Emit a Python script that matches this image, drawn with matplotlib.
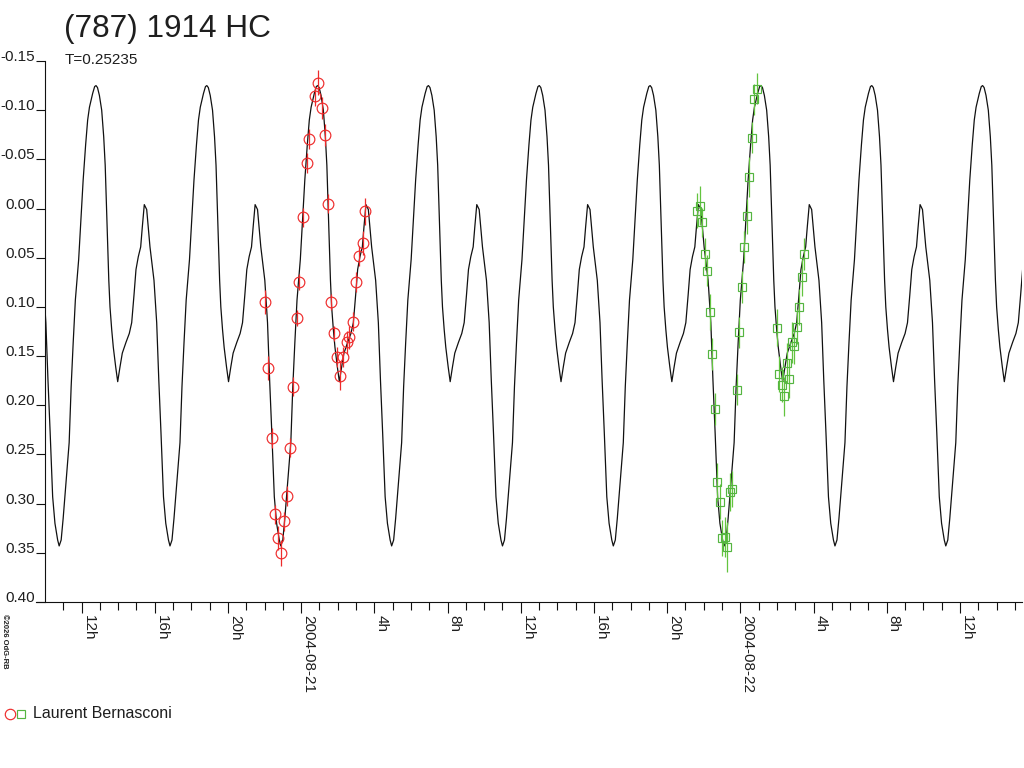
import numpy as np
import matplotlib
matplotlib.use("Agg")
import matplotlib.pyplot as plt
from matplotlib.lines import Line2D

plt.rcParams['font.family'] = ['Liberation Sans', 'DejaVu Sans']

title = "(787) 1914 HC"
subtitle = "T=0.25235"
observer = "Laurent Bernasconi"
credit = "©2026 OdG-RB"

period_days = 0.25235
epoch_hour = 12.787          # a light-curve maximum, hours since 2004-08-20 00:00
x_start, x_end = 10.0, 63.39  # hours since 2004-08-20 00:00

# one period of the fitted light curve
fit_phase = [0.0, 0.0135, 0.0307, 0.0514, 0.0695, 0.0830, 0.0929, 0.1037, 0.1155, 0.1263,
             0.1416, 0.1561, 0.1777, 0.1958, 0.2165, 0.2373, 0.2706, 0.3004, 0.3221, 0.3428,
             0.3608, 0.3816, 0.4032, 0.4177, 0.4357, 0.4574, 0.4871, 0.5232, 0.5476, 0.5665,
             0.5864, 0.6089, 0.6296, 0.6540, 0.6676, 0.6856, 0.7037, 0.7307, 0.7578, 0.7758,
             0.7939, 0.8137, 0.8435, 0.8660, 0.8841, 0.9066, 0.9247, 0.9409, 0.9698, 0.9878]
fit_mag = [-0.125, -0.123, -0.115, -0.100, -0.073, -0.044, -0.009, 0.032, 0.073, 0.100,
           0.123, 0.141, 0.161, 0.176, 0.161, 0.147, 0.136, 0.127, 0.116, 0.088,
           0.062, 0.049, 0.039, 0.019, -0.004, 0.001, 0.039, 0.073, 0.116, 0.174,
           0.228, 0.293, 0.320, 0.337, 0.343, 0.337, 0.315, 0.276, 0.238, 0.181,
           0.137, 0.093, 0.052, 0.007, -0.029, -0.065, -0.090, -0.103, -0.117, -0.124]

# night 1 (red circles), hours since 2004-08-20 00:00
n1_time = [22.022, 22.202, 22.388, 22.568, 22.749, 22.896, 23.060, 23.240, 23.388, 23.568,
           23.754, 23.896, 24.115, 24.301, 24.443, 24.770, 24.934, 25.120, 25.301, 25.448,
           25.628, 25.809, 25.973, 26.120, 26.301, 26.486, 26.628, 26.847, 26.995, 27.175,
           27.361, 27.486]
n1_mag = [0.095, 0.162, 0.233, 0.311, 0.335, 0.350, 0.318, 0.292, 0.243, 0.181,
          0.111, 0.075, 0.009, -0.046, -0.071, -0.114, -0.128, -0.102, -0.075, -0.005,
          0.095, 0.127, 0.151, 0.170, 0.151, 0.136, 0.131, 0.115, 0.075, 0.048,
          0.035, 0.003]
n1_err = [0.012, 0.012, 0.010, 0.010, 0.012, 0.013, 0.010, 0.010, 0.010, 0.010,
          0.008, 0.008, 0.010, 0.010, 0.010, 0.010, 0.013, 0.011, 0.011, 0.010,
          0.008, 0.008, 0.010, 0.014, 0.010, 0.012, 0.012, 0.010, 0.010, 0.010,
          0.012, 0.014]

# night 2 (green squares)
n2_time = [45.612, 45.792, 45.885, 46.066, 46.158, 46.339, 46.432, 46.612, 46.705, 46.869,
           46.978, 47.158, 47.284, 47.432, 47.525, 47.798, 47.940, 48.071, 48.213, 48.344,
           48.470, 48.617, 48.743, 48.891, 49.984, 50.109, 50.257, 50.383, 50.530, 50.656,
           50.803, 50.945, 51.093, 51.202, 51.350, 51.475]
n2_mag = [0.002, -0.003, 0.014, 0.046, 0.063, 0.105, 0.148, 0.204, 0.278, 0.298,
          0.335, 0.334, 0.344, 0.288, 0.285, 0.184, 0.126, 0.080, 0.039, 0.008,
          -0.032, -0.072, -0.111, -0.122, 0.121, 0.168, 0.179, 0.191, 0.157, 0.173,
          0.136, 0.140, 0.120, 0.100, 0.070, 0.046]
n2_err = [0.018, 0.020, 0.015, 0.016, 0.016, 0.018, 0.016, 0.016, 0.019, 0.018,
          0.018, 0.020, 0.025, 0.019, 0.018, 0.016, 0.016, 0.016, 0.016, 0.018,
          0.020, 0.016, 0.016, 0.016, 0.019, 0.018, 0.018, 0.020, 0.020, 0.020,
          0.021, 0.018, 0.018, 0.018, 0.019, 0.016]

y_ticks = [-0.15, -0.10, -0.05, 0.00, 0.05, 0.10, 0.15, 0.20, 0.25, 0.30, 0.35, 0.40]
x_major = [12, 16, 20, 24, 28, 32, 36, 40, 44, 48, 52, 56, 60]
x_labels = ["12h", "16h", "20h", "2004-08-21", "4h", "8h", "12h", "16h", "20h",
            "2004-08-22", "4h", "8h", "12h"]

RED = '#ee2b2b'
GREEN = '#55b541'
GREEN_BAR = '#63c43f'
TXT = '#1e1e1e'

W, H = 1024, 768
fig = plt.figure(figsize=(W / 100, H / 100), dpi=100)
ax_l, ax_r, ax_t, ax_b = 45, 1022, 61, 602
ax = fig.add_axes([ax_l / W, 1 - ax_b / H, (ax_r - ax_l) / W, (ax_b - ax_t) / H])

# fitted curve, repeated every period
P = period_days * 24.0
ph = np.array(fit_phase)
mg = np.array(fit_mag)
ct, cm = [], []
for n in range(-1, 10):
    ct.append(epoch_hour + (n + ph) * P)
    cm.append(mg)
ct = np.concatenate(ct)
cm = np.concatenate(cm)
ax.plot(ct, cm, color='#111111', lw=0.9, zorder=2)

# observations
ax.errorbar(n1_time, n1_mag, yerr=n1_err, fmt='none', ecolor=RED, elinewidth=0.9,
            capsize=0, zorder=3)
ax.plot(n1_time, n1_mag, 'o', ms=7.7, mfc='none', mec=RED, mew=0.85, zorder=4)
ax.errorbar(n2_time, n2_mag, yerr=n2_err, fmt='none', ecolor=GREEN_BAR, elinewidth=0.9,
            capsize=0, zorder=3)
ax.plot(n2_time, n2_mag, 's', ms=6.0, mfc='none', mec=GREEN, mew=0.85, zorder=4)

ax.set_xlim(x_start, x_end)
ax.set_ylim(0.40, -0.15)

for s in ['top', 'right', 'bottom']:
    ax.spines[s].set_visible(False)
ax.spines['left'].set_linewidth(0.8)
ax.spines['left'].set_color('#111111')
# bottom axis line, extending slightly to the left
ax.plot([-9 / (ax_r - ax_l), 1.0], [0, 0], transform=ax.transAxes, color='#111111',
        lw=0.8, clip_on=False, zorder=5)

ax.set_yticks(y_ticks)
ax.set_yticklabels([f"{v:.2f}" for v in y_ticks], fontsize=11, color=TXT)
for lab in ax.get_yticklabels():
    lab.set_verticalalignment('baseline')
ax.tick_params(axis='y', direction='out', length=6.5, width=0.8, pad=0.8, color='#111111')

ax.set_xticks(x_major)
ax.set_xticklabels(x_labels, fontsize=11, color=TXT, rotation=-90, ha='left', va='top')
ax.set_xticks([h for h in range(11, 64) if h not in x_major], minor=True)
ax.tick_params(axis='x', which='major', direction='out', length=8, width=0.8, pad=1.5,
               color='#111111')
ax.tick_params(axis='x', which='minor', direction='out', length=6, width=0.8,
               color='#111111')

fig.text(64 / W, 1 - 37.5 / H, title, fontsize=22.7, color=TXT, va='baseline', ha='left')
fig.text(65 / W, 1 - 64 / H, subtitle, fontsize=11, color=TXT, va='baseline', ha='left')

# legend
fig.add_artist(Line2D([9.5 / W], [1 - 714 / H], marker='o', ms=7.5, mfc='none', mec=RED,
                      mew=0.85, ls='none', transform=fig.transFigure))
fig.add_artist(Line2D([21 / W], [1 - 714 / H], marker='s', ms=5.4, mfc='none', mec=GREEN,
                      mew=0.85, ls='none', transform=fig.transFigure))
fig.text(33 / W, 1 - 718.5 / H, observer, fontsize=11.5, color=TXT, va='baseline', ha='left')

fig.text(0.5 / W, 1 - 614 / H, credit, fontsize=5.5, fontweight='bold', color=TXT,
         rotation=-90, ha='left', va='top')

fig.savefig("out.png", dpi=100)
